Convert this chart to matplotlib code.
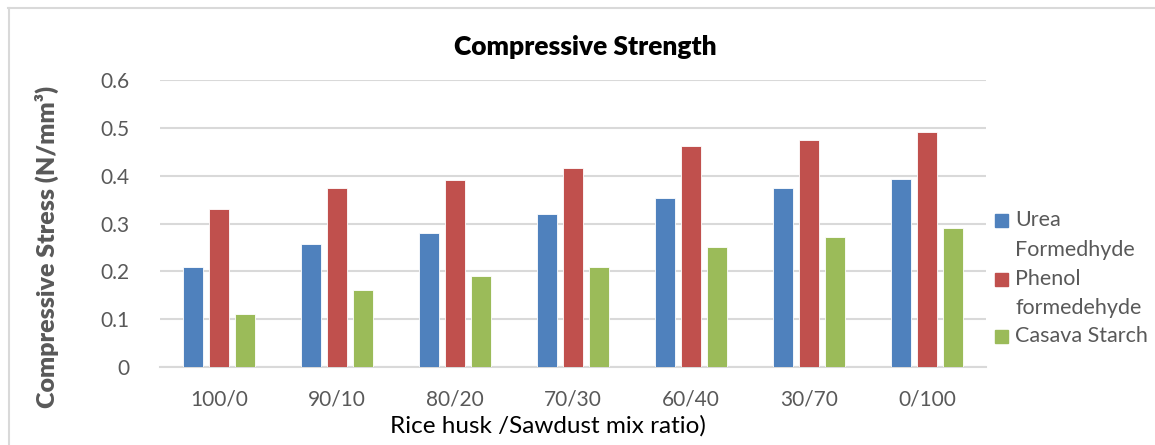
import matplotlib
matplotlib.use("Agg")
import matplotlib.pyplot as plt
from matplotlib.patches import Rectangle
from matplotlib.lines import Line2D
import numpy as np

plt.rcParams['font.family'] = ['Lato', 'DejaVu Sans']

categories = ["100/0", "90/10", "80/20", "70/30", "60/40", "30/70", "0/100"]
urea = [0.21, 0.258, 0.28, 0.32, 0.353, 0.375, 0.393]
phenol = [0.33, 0.375, 0.39, 0.415, 0.462, 0.475, 0.492]
cassava = [0.11, 0.16, 0.19, 0.21, 0.25, 0.272, 0.29]
series_labels = [["Urea", "Formedhyde"], ["Phenol", "formedehyde"], ["Casava Starch"]]
colors = ["#4F81BD", "#C0504D", "#9BBB59"]
yticks = [0, 0.1, 0.2, 0.3, 0.4, 0.5, 0.6]
ytick_labels = ["0", "0.1", "0.2", "0.3", "0.4", "0.5", "0.6"]

W, H = 1155, 445
fig = plt.figure(figsize=(W / 100, H / 100), dpi=100)
ax = fig.add_axes([160 / W, 1 - 367 / H, 826 / W, 287 / H])

gray_text = "#595959"
grid_c = "#D9D9D9"

x = np.arange(len(categories))
bw = 0.175
step = 0.22
for i, (vals, col) in enumerate(zip([urea, phenol, cassava], colors)):
    ax.bar(x + (i - 1) * step, vals, width=bw, color=col,
           edgecolor="white", linewidth=0.6, zorder=3)

ax.set_xlim(-0.5, len(categories) - 0.5)
ax.set_ylim(0, 0.6)
ax.set_yticks(yticks)
ax.set_yticklabels(ytick_labels)
ax.set_xticks(x)
ax.set_xticklabels(categories)
ax.yaxis.grid(True, color=grid_c, linewidth=1.5, zorder=0)
ax.set_axisbelow(True)
for s in ax.spines.values():
    s.set_visible(False)
ax.axhline(0, color=grid_c, linewidth=1.5, zorder=2, clip_on=False)
ax.tick_params(axis="both", length=0, labelsize=15, labelcolor=gray_text)
ax.tick_params(axis="y", pad=22)
ax.tick_params(axis="x", pad=16)

# titles and axis labels
fig.text(585 / W, 1 - 47 / H, "Compressive Strength", ha="center", va="center",
         fontsize=19, fontweight="heavy", color="black")
fig.text(548 / W, 1 - 426 / H, "Rice husk /Sawdust mix ratio)", ha="center",
         va="center", fontsize=17.5, color="black")
fig.text(47 / W, 1 - 247 / H, "Compressive Stress (N/mm³)", ha="center",
         va="center", rotation=90, fontsize=18, fontweight="heavy", color=gray_text)

# legend
line_y = [220, 279, 336]
for ys, col, lines in zip(line_y, colors, series_labels):
    fig.add_artist(Rectangle((995 / W, 1 - (ys + 7) / H), 13 / W, 13 / H,
                             transform=fig.transFigure, color=col))
    for k, t in enumerate(lines):
        fig.text(1015 / W, 1 - (ys + 29.5 * k) / H, t, ha="left", va="center",
                 fontsize=15.5, color=gray_text)

# chart frame
fig.add_artist(Line2D([8 / W, 1.0], [1 - 7.5 / H] * 2, transform=fig.transFigure,
                      color=grid_c, linewidth=1.5))
fig.add_artist(Line2D([8.5 / W] * 2, [0, 1 - 7.5 / H], transform=fig.transFigure,
                      color=grid_c, linewidth=1.5))

fig.savefig("out.png", dpi=100)
